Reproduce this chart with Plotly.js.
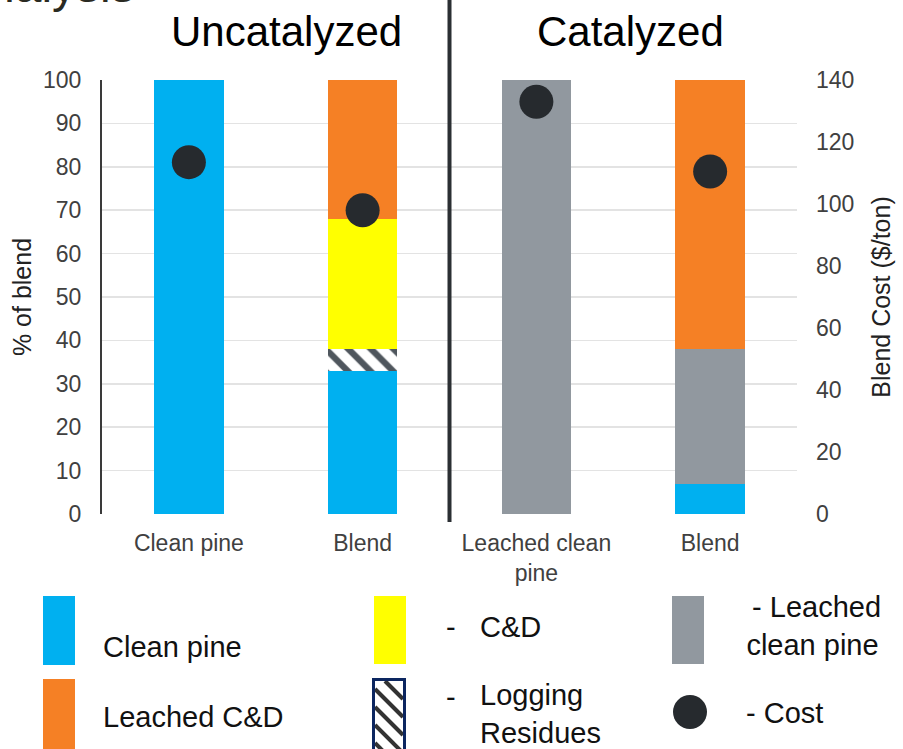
<!DOCTYPE html>
<html>
<head>
<meta charset="utf-8">
<script src="https://cdn.plot.ly/plotly-3.0.1.min.js"></script>
<style>
  html, body { margin: 0; padding: 0; background: #ffffff; }
  #chart { width: 903px; height: 749px; }
</style>
</head>
<body>
<div id="chart"></div>
<script>
// Blend composition (% of blend) for each case, plus blend cost ($/ton)
const caseIds = [0, 1, 2, 3];
const caseLabels = ['Clean pine', 'Blend', 'Leached clean<br>pine', 'Blend'];

const cleanPine = [100, 33, 0, 7];
const loggingResidues = [0, 5, 0, 0];
const cAndD = [0, 30, 0, 0];
const leachedCleanPine = [0, 0, 100, 31];
const leachedCAndD = [0, 32, 0, 62];

const blendCost = [113.5, 98, 133, 110.5];

const leftTicks = [0, 10, 20, 30, 40, 50, 60, 70, 80, 90, 100];
const rightTicks = [0, 20, 40, 60, 80, 100, 120, 140];

// Colours
const BLUE = '#00b0f0';
const ORANGE = '#f58025';
const YELLOW = '#ffff00';
const GREY = '#91989f';
const DOT = '#262a2e';
const HATCH = '#4f565d';
const NAVY = '#0c2660';

// Plot frame in page pixels, used to place the hand-built key below the chart
const W = 903, H = 749;
const M = { l: 102, r: 106, t: 80, b: 235 };
const PW = W - M.l - M.r, PH = H - M.t - M.b;
const px = x => (x - M.l) / PW;
const py = y => (H - M.b - y) / PH;

const FONT = 'Liberation Sans, Arial, sans-serif';

function barTrace(name, values, color, pattern) {
  const t = {
    type: 'bar', name: name, x: caseIds, y: values, width: 0.4,
    marker: { color: color, line: { width: 0 } },
    hoverinfo: 'name+y', showlegend: false
  };
  if (pattern) t.marker.pattern = pattern;
  return t;
}

const data = [
  barTrace('Clean pine', cleanPine, BLUE),
  barTrace('Logging Residues', loggingResidues, '#ffffff',
    { shape: '\\', fgcolor: HATCH, bgcolor: '#ffffff', size: 16, solidity: 0.4 }),
  barTrace('C&D', cAndD, YELLOW),
  barTrace('Leached clean pine', leachedCleanPine, GREY),
  barTrace('Leached C&D', leachedCAndD, ORANGE),
  {
    type: 'scatter', mode: 'markers', name: 'Cost', x: caseIds, y: blendCost,
    yaxis: 'y2', marker: { color: DOT, size: 34 }, showlegend: false
  }
];

// Key swatches and texts below the plot
const shapes = [
  // divider between the two groups
  { type: 'line', xref: 'x', yref: 'paper', x0: 1.5, x1: 1.5, y0: py(522), y1: py(0),
    line: { color: '#2b2f33', width: 4 } }
];

function swatch(x0, y0, x1, y1, fill, line) {
  shapes.push({
    type: 'rect', xref: 'paper', yref: 'paper',
    x0: px(x0), x1: px(x1), y0: py(y1), y1: py(y0),
    fillcolor: fill, line: line || { width: 0 }, layer: 'above'
  });
}

swatch(43, 596, 75, 665, BLUE);
swatch(43, 679, 75, 760, ORANGE);
swatch(374, 596, 406, 664, YELLOW);
swatch(672, 596, 704, 664, GREY);

// hatched key swatch: diagonal stripes clipped to the box
(function () {
  const x0 = 375, x1 = 403, y0 = 681, y1 = 760;
  for (let c = y0 - x1; c <= y1 - x0; c += 18) {
    const a = Math.max(x0, y0 - c), b = Math.min(x1, y1 - c);
    if (b - a < 1) continue;
    shapes.push({
      type: 'line', xref: 'paper', yref: 'paper',
      x0: px(a), y0: py(a + c), x1: px(b), y1: py(b + c),
      line: { color: '#333333', width: 4 }, layer: 'above'
    });
  }
  swatch(373.5, 679.5, 404.5, 760, 'rgba(0,0,0,0)', { color: NAVY, width: 3 });
})();

shapes.push({
  type: 'circle', xref: 'paper', yref: 'paper',
  x0: px(673), x1: px(707), y0: py(729), y1: py(695),
  fillcolor: DOT, line: { width: 0 }, layer: 'above'
});

function note(text, x, y, opts) {
  return Object.assign({
    text: text, xref: 'paper', yref: 'paper', x: px(x), y: py(y),
    xanchor: 'left', yanchor: 'middle', showarrow: false,
    font: { family: FONT, size: 29, color: '#111111' }
  }, opts || {});
}

const annotations = [
  note('Analysis', 137, 14, { xanchor: 'right', yanchor: 'bottom',
    font: { family: FONT, size: 48, color: '#2a2a22' } }),
  note('Uncatalyzed', 286, 31, { xanchor: 'center', font: { family: FONT, size: 42, color: '#000000' } }),
  note('Catalyzed', 630, 31, { xanchor: 'center', font: { family: FONT, size: 42, color: '#000000' } }),
  note('Clean pine', 101, 647),
  note('Leached C&D', 101, 717),
  note('-', 444, 627),
  note('C&D', 478, 627),
  note('-', 444, 697),
  note('Logging<br>Residues', 478, 714, { align: 'left' }),
  note(' - Leached<br>clean pine', 812, 626, { xanchor: 'center', align: 'center' }),
  note('- Cost', 744, 713)
];

const tickFont = { family: FONT, size: 23, color: '#404040' };

const layout = {
  width: W, height: H,
  margin: M,
  paper_bgcolor: '#ffffff', plot_bgcolor: '#ffffff',
  barmode: 'stack',
  showlegend: false,
  font: { family: FONT },
  xaxis: {
    range: [-0.5, 3.5], tickmode: 'array', tickvals: caseIds, ticktext: caseLabels,
    showgrid: false, zeroline: false, showline: false, ticks: '', ticklabelstandoff: 13,
    tickfont: tickFont, fixedrange: true
  },
  yaxis: {
    range: [0, 100], tickmode: 'array', tickvals: leftTicks,
    showgrid: true, gridcolor: '#e3e3e3', gridwidth: 1.5,
    zeroline: false, showline: true, linecolor: '#3a3a3a', linewidth: 2,
    ticks: '', ticklabelstandoff: 14, tickfont: tickFont,
    title: { text: '% of blend', font: { family: FONT, size: 25, color: '#222222' }, standoff: 4 },
    fixedrange: true
  },
  yaxis2: {
    overlaying: 'y', side: 'right', range: [0, 140], tickmode: 'array', tickvals: rightTicks,
    showgrid: false, zeroline: false, showline: false,
    ticks: '', ticklabelstandoff: 18, tickfont: tickFont,
    title: { text: 'Blend Cost ($/ton)', font: { family: FONT, size: 25, color: '#222222' }, standoff: 19 },
    fixedrange: true
  },
  shapes: shapes,
  annotations: annotations
};

Plotly.newPlot('chart', data, layout, { displayModeBar: false, staticPlot: true });
</script>
</body>
</html>
